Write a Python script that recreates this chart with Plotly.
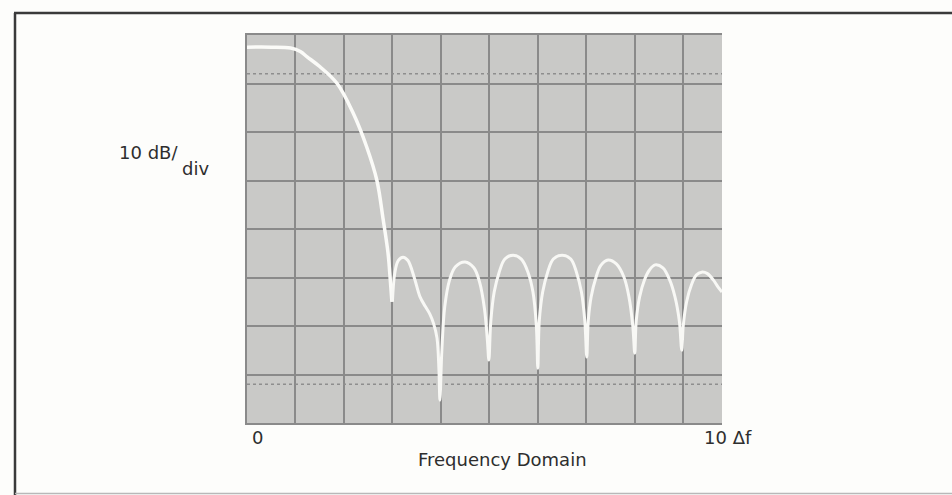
import plotly.graph_objects as go

# Trace (x in divisions of Δf, y in divisions of 10 dB)
main_x = [0.0, 0.5, 0.9, 1.1, 1.24, 1.5, 1.86, 2.19, 2.47, 2.68, 2.81, 2.91, 2.96, 2.99]
main_y = [7.75, 7.75, 7.73, 7.66, 7.55, 7.35, 7.0, 6.39, 5.69, 5.0, 4.19, 3.5, 2.9, 2.5]

side_x = [3.0, 3.05, 3.12, 3.22, 3.32, 3.45, 3.57, 3.68, 3.77, 3.85, 3.92, 3.96, 3.98,
          4.02, 4.08, 4.18, 4.3, 4.5, 4.68, 4.8, 4.9, 4.96, 4.99,
          5.03, 5.1, 5.2, 5.32, 5.49, 5.66, 5.8, 5.9, 5.97, 6.0,
          6.03, 6.1, 6.2, 6.32, 6.5, 6.68, 6.8, 6.9, 6.97, 7.01,
          7.04, 7.1, 7.2, 7.3, 7.45, 7.62, 7.78, 7.88, 7.96, 8.0,
          8.03, 8.1, 8.2, 8.3, 8.42, 8.58, 8.72, 8.83, 8.92, 8.97,
          9.0, 9.07, 9.17, 9.27, 9.38, 9.5, 9.62, 9.72, 9.8]
side_y = [2.5, 3.1, 3.35, 3.42, 3.35, 3.0, 2.6, 2.4, 2.25, 2.05, 1.75, 1.1, 0.47,
          1.5, 2.4, 2.95, 3.22, 3.32, 3.2, 2.9, 2.35, 1.7, 1.3,
          2.1, 2.7, 3.1, 3.38, 3.46, 3.38, 3.1, 2.7, 2.0, 1.13,
          2.1, 2.7, 3.1, 3.38, 3.46, 3.38, 3.1, 2.7, 2.1, 1.36,
          2.1, 2.6, 3.0, 3.25, 3.36, 3.28, 3.0, 2.6, 2.0, 1.44,
          2.1, 2.6, 2.95, 3.15, 3.26, 3.2, 2.95, 2.6, 2.1, 1.5,
          2.0, 2.5, 2.85, 3.05, 3.11, 3.08, 2.95, 2.8, 2.7]

dotted_levels = [0.8, 7.2]
x_range = [0, 9.8]
y_range = [0, 8]

fig = go.Figure()

for lvl in dotted_levels:
    fig.add_trace(go.Scatter(x=x_range, y=[lvl, lvl], mode="lines",
                             line=dict(color="#8e8e8e", width=1.5, dash="dot"),
                             hoverinfo="skip", showlegend=False))

fig.add_trace(go.Scatter(x=main_x, y=main_y, mode="lines", line_shape="spline",
                         line=dict(color="#fbfbf8", width=3.5), showlegend=False))
fig.add_trace(go.Scatter(x=side_x, y=side_y, mode="lines", line_shape="spline",
                         line=dict(color="#f8f8f5", width=3), showlegend=False))

axis_common = dict(showticklabels=False, ticks="", zeroline=False,
                   gridcolor="#8a8a8a", gridwidth=2, showline=True,
                   linecolor="#8a8a8a", linewidth=2, fixedrange=True)
fig.update_xaxes(range=x_range, dtick=1, tick0=0, mirror=True, **axis_common)
fig.update_yaxes(range=y_range, dtick=1, tick0=0, mirror=False, **axis_common)

font = dict(family="DejaVu Sans", size=18, color="#2e2e2e")
W, H = 475.0, 388.0
L, T = 247.0, 35.0
def px(x):
    return (x - L) / W
def py(y):
    return (T + H - y) / H

annos = [
    dict(text="10 dB/", x=px(117), y=py(152), xanchor="left", yanchor="middle"),
    dict(text="div", x=px(180), y=py(168), xanchor="left", yanchor="middle"),
    dict(text="0", x=px(250), y=py(437), xanchor="left", yanchor="middle"),
    dict(text="10 Δf", x=px(702), y=py(437), xanchor="left", yanchor="middle"),
    dict(text="Frequency Domain", x=px(502), y=py(459), xanchor="center", yanchor="middle"),
]
for a in annos:
    fig.add_annotation(xref="paper", yref="paper", showarrow=False, font=font, **a)

# outer frame
fig.add_shape(type="line", xref="paper", yref="paper", x0=px(15), x1=px(15),
              y0=py(496), y1=py(13), line=dict(color="#3a3a3a", width=2.5))
fig.add_shape(type="line", xref="paper", yref="paper", x0=px(14), x1=px(960),
              y0=py(13), y1=py(13), line=dict(color="#3a3a3a", width=2.5))
fig.add_shape(type="line", xref="paper", yref="paper", x0=px(15), x1=px(960),
              y0=py(493.5), y1=py(493.5), line=dict(color="#b8b8b8", width=1.5))

fig.update_layout(
    width=952, height=495,
    margin=dict(l=247, r=230, t=35, b=72),
    paper_bgcolor="#fdfdfb", plot_bgcolor="#c9c9c7",
    showlegend=False,
)

fig.write_html("out.html")
